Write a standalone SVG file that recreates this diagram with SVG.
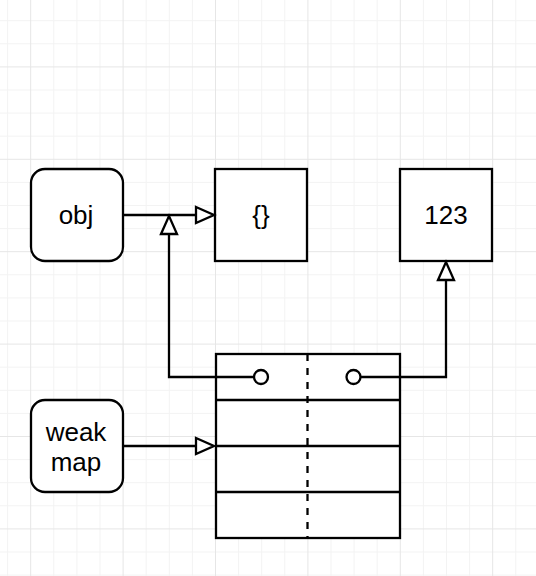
<svg xmlns="http://www.w3.org/2000/svg" width="536" height="576" viewBox="0 0 536 576">
<style>
.minor{stroke:#f3f3f3;stroke-width:1;fill:none}
.major{stroke:#e6e6e6;stroke-width:1;fill:none}
.box{fill:#fff;stroke:#000;stroke-width:2.3}
.lbl{font-family:"Liberation Sans",Arial,sans-serif;font-size:26px;fill:#000;text-anchor:middle}
.edge{fill:none;stroke:#000;stroke-width:2.3}
.head{fill:#fff;stroke:#000;stroke-width:2.3;stroke-linejoin:miter}
</style>
<rect x="0" y="0" width="536" height="576" fill="#fff"/>
<g id="grid">
<path class="minor" d="M7.6 0V576M53.8 0V576M76.9 0V576M100 0V576M146.2 0V576M169.3 0V576M192.4 0V576M238.6 0V576M261.7 0V576M284.8 0V576M331 0V576M354.1 0V576M377.2 0V576M423.4 0V576M446.5 0V576M469.6 0V576M515.8 0V576M0 20.7H536M0 43.8H536M0 90H536M0 113.1H536M0 136.2H536M0 182.4H536M0 205.5H536M0 228.6H536M0 274.8H536M0 297.9H536M0 321H536M0 367.2H536M0 390.3H536M0 413.4H536M0 459.6H536M0 482.7H536M0 505.8H536M0 552H536M0 575.1H536"/>
<path class="major" d="M30.7 0V576M123.1 0V576M215.5 0V576M307.9 0V576M400.3 0V576M492.7 0V576M0 66.9H536M0 159.3H536M0 251.7H536M0 344.1H536M0 436.5H536M0 528.9H536"/>
</g>
<g id="obj">
<rect class="box" x="31" y="169" width="92" height="92" rx="14"/>
<text class="lbl" x="76" y="224">obj</text>
</g>
<g id="emptyObject">
<rect class="box" x="215" y="169" width="92" height="92"/>
<text class="lbl" x="261" y="224">{}</text>
</g>
<g id="value123">
<rect class="box" x="400" y="169" width="92" height="92"/>
<text class="lbl" x="446" y="224">123</text>
</g>
<g id="weakmap">
<rect class="box" x="31" y="400" width="92" height="92" rx="14"/>
<text class="lbl" x="76" y="441">weak</text>
<text class="lbl" x="76" y="471">map</text>
</g>
<g id="table">
<rect class="box" x="216" y="354" width="184" height="184"/>
<path class="edge" d="M216 400H400M216 446H400M216 492H400"/>
<path class="edge" d="M307.5 354V538" stroke-dasharray="7 7"/>
</g>
<g id="connectors">
<path class="edge" d="M123 215H196"/>
<path class="head" d="M196 207L214 215L196 223Z"/>
<path class="edge" d="M254 377H169V234"/>
<path class="head" d="M161 234L169 216L177 234Z"/>
<path class="edge" d="M360.5 377H446V280"/>
<path class="head" d="M438 280L446 262L454 280Z"/>
<path class="edge" d="M123 446H196"/>
<path class="head" d="M196 438L214 446L196 454Z"/>
<circle cx="261" cy="377" r="7" fill="#fff" stroke="#000" stroke-width="2.3"/>
<circle cx="353.5" cy="377" r="7" fill="#fff" stroke="#000" stroke-width="2.3"/>
</g>
</svg>
